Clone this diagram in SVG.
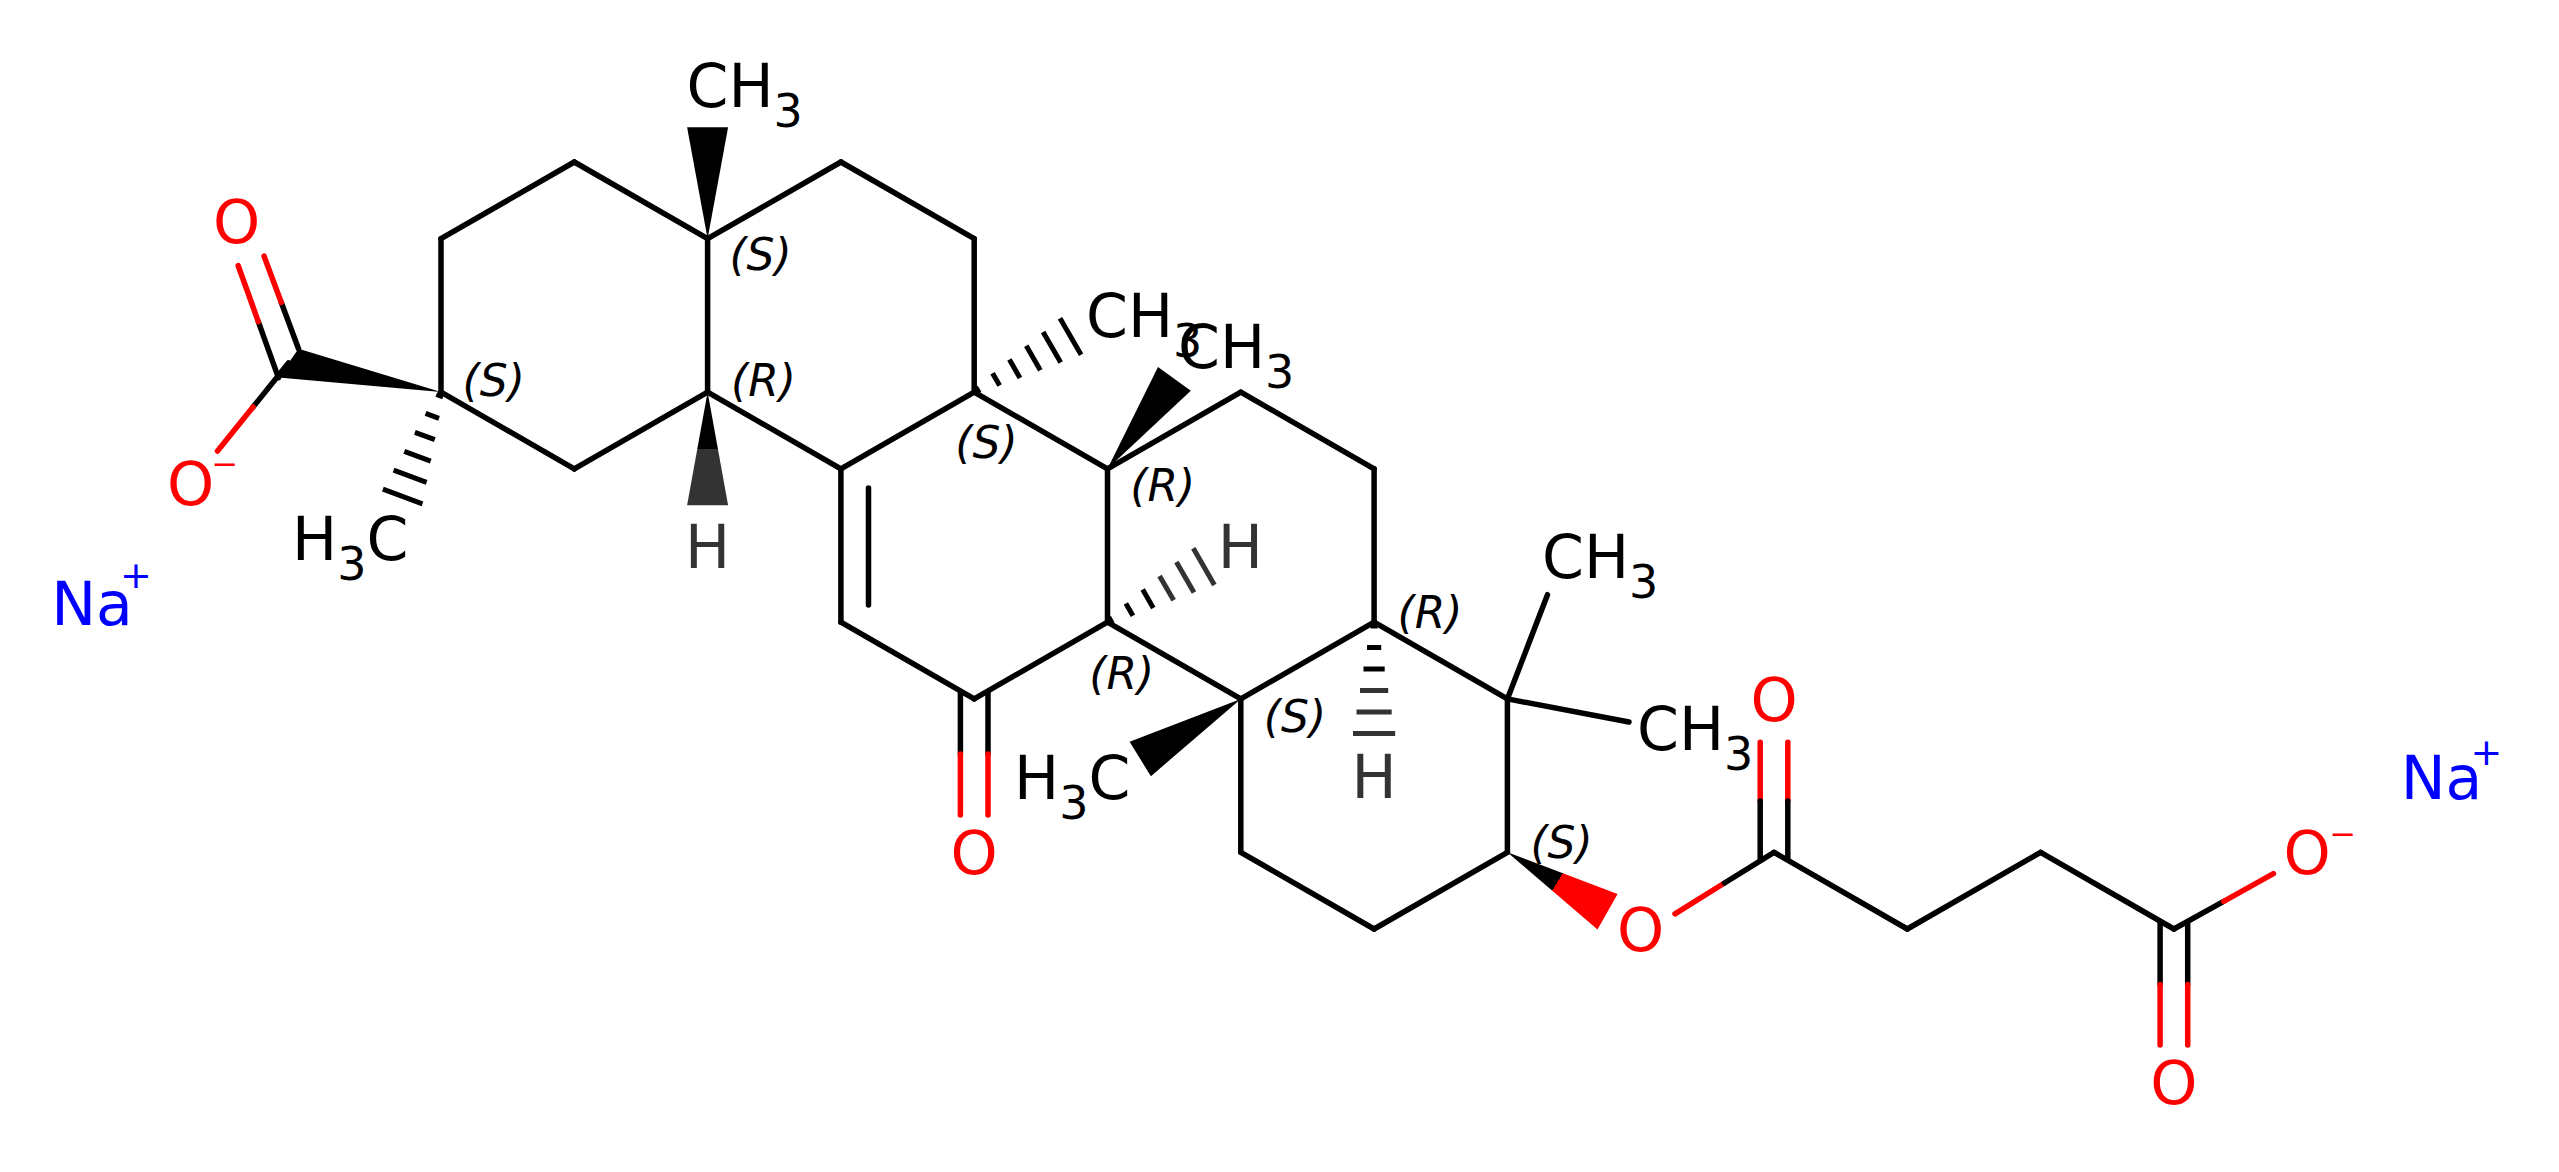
<svg xmlns="http://www.w3.org/2000/svg" width="2559" height="1172" viewBox="0 0 2559 1172">
<style>
.bd{stroke:#000;stroke-width:5.5;stroke-linecap:round;fill:none}
.rd{stroke:#f00}
.hs{stroke:#000;stroke-width:5;stroke-linecap:butt}
.hg{stroke:#333}
.lb{font-family:"DejaVu Sans","Liberation Sans",sans-serif;font-size:60px;fill:#000}
.sb{font-size:46px}
.st{font-family:"DejaVu Sans","Liberation Sans",sans-serif;font-size:44px;font-style:italic;fill:#000;text-anchor:middle}
.ox{fill:#f00}
.hy{fill:#333}
.na{fill:#00f}
.ch{font-size:32px}
.pl{font-size:38px}
.mid{text-anchor:middle}
.end{text-anchor:end}
</style>
<defs>
<linearGradient id="gH" gradientUnits="userSpaceOnUse" x1="707.6" y1="392.1" x2="707.6" y2="505.3">
<stop offset="0.5" stop-color="#000"/><stop offset="0.5" stop-color="#333"/>
</linearGradient>
<linearGradient id="gO" gradientUnits="userSpaceOnUse" x1="1507.4" y1="852.3" x2="1607.5" y2="912">
<stop offset="0.5" stop-color="#000"/><stop offset="0.5" stop-color="#f00"/>
</linearGradient>
</defs>
<rect width="2559" height="1172" fill="#fff"/>
<g id="connectors">
<g class="bd">
<line x1="441" y1="238.7" x2="574.3" y2="162"/>
<line x1="574.3" y1="162" x2="707.6" y2="238.7"/>
<line x1="707.6" y1="238.7" x2="707.6" y2="392.1"/>
<line x1="707.6" y1="392.1" x2="574.3" y2="468.8"/>
<line x1="574.3" y1="468.8" x2="441" y2="392.1"/>
<line x1="441" y1="392.1" x2="441" y2="238.7"/>
<line x1="707.6" y1="238.7" x2="840.9" y2="162"/>
<line x1="840.9" y1="162" x2="974.2" y2="238.7"/>
<line x1="974.2" y1="238.7" x2="974.2" y2="392.1"/>
<line x1="974.2" y1="392.1" x2="840.9" y2="468.8"/>
<line x1="840.9" y1="468.8" x2="707.6" y2="392.1"/>
<line x1="840.9" y1="468.8" x2="840.9" y2="622.2"/>
<line x1="868.5" y1="488" x2="868.5" y2="605"/>
<line x1="840.9" y1="622.2" x2="974.2" y2="698.9"/>
<line x1="974.2" y1="698.9" x2="1107.5" y2="622.2"/>
<line x1="1107.5" y1="622.2" x2="1107.5" y2="468.8"/>
<line x1="1107.5" y1="468.8" x2="974.2" y2="392.1"/>
<line x1="1107.5" y1="468.8" x2="1240.8" y2="392.1"/>
<line x1="1240.8" y1="392.1" x2="1374.1" y2="468.8"/>
<line x1="1374.1" y1="468.8" x2="1374.1" y2="622.2"/>
<line x1="1374.1" y1="622.2" x2="1240.8" y2="698.9"/>
<line x1="1240.8" y1="698.9" x2="1107.5" y2="622.2"/>
<line x1="1374.1" y1="622.2" x2="1507.4" y2="698.9"/>
<line x1="1507.4" y1="698.9" x2="1507.4" y2="852.3"/>
<line x1="1507.4" y1="852.3" x2="1374.1" y2="929"/>
<line x1="1374.1" y1="929" x2="1240.8" y2="852.3"/>
<line x1="1240.8" y1="852.3" x2="1240.8" y2="698.9"/>
<line x1="1507.4" y1="698.9" x2="1547.5" y2="594.7"/>
<line x1="1507.4" y1="698.9" x2="1629" y2="722"/>
<line class="rd" x1="1675" y1="913.8" x2="1724.5" y2="883"/>
<line x1="1724.5" y1="883" x2="1774" y2="852.3"/>
<line x1="1774" y1="852.3" x2="1907.3" y2="929"/>
<line x1="1907.3" y1="929" x2="2040.6" y2="852.3"/>
<line x1="2040.6" y1="852.3" x2="2173.9" y2="929"/>
<line x1="2173.9" y1="929" x2="2223.7" y2="901.3"/>
<line class="rd" x1="2223.7" y1="901.3" x2="2273.4" y2="873.6"/>
<line x1="2160.1" y1="922" x2="2160.1" y2="984.5"/>
<line class="rd" x1="2160.1" y1="984.5" x2="2160.1" y2="1045"/>
<line x1="2187.7" y1="922" x2="2187.7" y2="984.5"/>
<line class="rd" x1="2187.7" y1="984.5" x2="2187.7" y2="1045"/>
<line class="rd" x1="1760.2" y1="742.3" x2="1760.2" y2="801"/>
<line x1="1760.2" y1="801" x2="1760.2" y2="860"/>
<line class="rd" x1="1787.8" y1="742.3" x2="1787.8" y2="801"/>
<line x1="1787.8" y1="801" x2="1787.8" y2="859"/>
<line x1="960.4" y1="693" x2="960.4" y2="754"/>
<line class="rd" x1="960.4" y1="754" x2="960.4" y2="815"/>
<line x1="988" y1="693" x2="988" y2="754"/>
<line class="rd" x1="988" y1="754" x2="988" y2="815"/>
<line x1="298.5" y1="348.8" x2="281.3" y2="302.5"/>
<line class="rd" x1="281.3" y1="302.5" x2="264.1" y2="256.2"/>
<line x1="278.4" y1="377.6" x2="258.3" y2="321.6"/>
<line class="rd" x1="258.3" y1="321.6" x2="238.2" y2="265.7"/>
<line x1="288.5" y1="363" x2="253" y2="407"/>
<line class="rd" x1="253" y1="407" x2="217.5" y2="451"/>
</g>
<polygon points="707.6,238.7 687.1,127.3 728.1,127.3" fill="#000"/>
<polygon points="707.6,392.1 687.1,505.3 728.1,505.3" fill="url(#gH)"/>
<polygon points="441,392.1 298.5,348.8 278.4,377.6" fill="#000"/>
<polygon points="1107.5,468.8 1158,367 1190.8,390.7" fill="#000"/>
<polygon points="1240.8,698.9 1129.6,741.8 1150.9,776.2" fill="#000"/>
<polygon points="1507.4,852.3 1617.6,894 1597.5,929.6" fill="url(#gO)"/>
<g class="hs">
<line x1="436.3" y1="394.5" x2="443.1" y2="396.9"/>
<line x1="425.6" y1="413.4" x2="439" y2="418.3"/>
<line x1="414.9" y1="432.3" x2="434.8" y2="439.6"/>
<line x1="404.3" y1="451.3" x2="430.7" y2="461.1"/>
<line x1="393.6" y1="470.2" x2="426.6" y2="482.4"/>
<line x1="382.9" y1="489.2" x2="422.5" y2="503.8"/>
<line x1="975.7" y1="387.1" x2="979.3" y2="393.3"/>
<line x1="992.55" y1="373.3" x2="999.65" y2="385.6"/>
<line x1="1009.4" y1="359.5" x2="1020" y2="377.9"/>
<line x1="1026.25" y1="345.8" x2="1040.35" y2="370.2"/>
<line x1="1043.1" y1="332" x2="1060.7" y2="362.5"/>
<line x1="1060" y1="318.2" x2="1081.1" y2="354.8"/>
<line x1="1108.8" y1="617.2" x2="1112.4" y2="623.4"/>
<line x1="1125.85" y1="603.4" x2="1132.95" y2="615.7"/>
<line x1="1142.7" y1="589.6" x2="1153.3" y2="608"/>
<line class="hg" x1="1159.55" y1="575.9" x2="1173.65" y2="600.3"/>
<line class="hg" x1="1176.4" y1="562.1" x2="1194" y2="592.6"/>
<line class="hg" x1="1193.3" y1="548.3" x2="1214.4" y2="584.9"/>
<line x1="1370.5" y1="626" x2="1377.7" y2="626"/>
<line x1="1367" y1="647.5" x2="1381.2" y2="647.5"/>
<line x1="1363.5" y1="669" x2="1384.7" y2="669"/>
<line class="hg" x1="1360" y1="690.5" x2="1388.2" y2="690.5"/>
<line class="hg" x1="1356.5" y1="711.9" x2="1391.7" y2="711.9"/>
<line class="hg" x1="1353" y1="733.4" x2="1395.2" y2="733.4"/>
</g>
</g>
<g id="atom-A3"><text class="st" x="760.6" y="270">(S)</text></g>
<g id="atom-A4"><text class="st" x="763.5" y="396">(R)</text></g>
<g id="atom-A6"><text class="st" x="493.7" y="396">(S)</text></g>
<g id="atom-B4"><text class="st" x="986.5" y="457.5">(S)</text></g>
<g id="atom-C3"><text class="st" x="1162.7" y="501">(R)</text></g>
<g id="atom-C4"><text class="st" x="1121.8" y="689">(R)</text></g>
<g id="atom-D4"><text class="st" x="1430" y="627.5">(R)</text></g>
<g id="atom-D5"><text class="st" x="1295" y="731.5">(S)</text></g>
<g id="atom-E3"><text class="st" x="1561.6" y="858">(S)</text></g>
<g id="methyl-1"><text class="lb" x="686.6" y="107.3">CH<tspan class="sb" dy="20">3</tspan></text></g>
<g id="methyl-2"><text class="lb" x="1086" y="337.4">CH<tspan class="sb" dy="20">3</tspan></text></g>
<g id="methyl-3"><text class="lb" x="1178" y="367.8">CH<tspan class="sb" dy="20">3</tspan></text></g>
<g id="methyl-4"><text class="lb end" x="408.4" y="559.8">H<tspan class="sb" dy="20">3</tspan><tspan dy="-20">C</tspan></text></g>
<g id="methyl-5"><text class="lb end" x="1130.4" y="799.4">H<tspan class="sb" dy="20">3</tspan><tspan dy="-20">C</tspan></text></g>
<g id="methyl-6"><text class="lb" x="1542" y="578">CH<tspan class="sb" dy="20">3</tspan></text></g>
<g id="methyl-7"><text class="lb" x="1637" y="749.5">CH<tspan class="sb" dy="20">3</tspan></text></g>
<g id="hydrogen-1"><text class="lb mid hy" x="707.6" y="567.7">H</text></g>
<g id="hydrogen-2"><text class="lb mid hy" x="1240.3" y="567.5">H</text></g>
<g id="hydrogen-3"><text class="lb mid hy" x="1374.1" y="797.6">H</text></g>
<g id="oxygen-1"><text class="lb mid ox" x="236.5" y="243.4">O</text></g>
<g id="oxygen-2"><text class="lb mid ox"><tspan x="190.6" y="505.2">O</tspan><tspan class="ch" x="225" y="474.6">−</tspan></text></g>
<g id="oxygen-3"><text class="lb mid ox" x="974.2" y="874.3">O</text></g>
<g id="oxygen-4"><text class="lb mid ox" x="1640.7" y="951">O</text></g>
<g id="oxygen-5"><text class="lb mid ox" x="1774" y="720.9">O</text></g>
<g id="oxygen-6"><text class="lb mid ox"><tspan x="2307.2" y="874.3">O</tspan><tspan class="ch" x="2343" y="845.3">−</tspan></text></g>
<g id="oxygen-7"><text class="lb mid ox" x="2173.9" y="1104.4">O</text></g>
<g id="sodium-1"><text class="lb mid na"><tspan x="92" y="625">Na</tspan><tspan class="pl" x="136" y="588">+</tspan></text></g>
<g id="sodium-2"><text class="lb mid na"><tspan x="2441.5" y="798.8">Na</tspan><tspan class="pl" x="2486.4" y="765">+</tspan></text></g>
</svg>
